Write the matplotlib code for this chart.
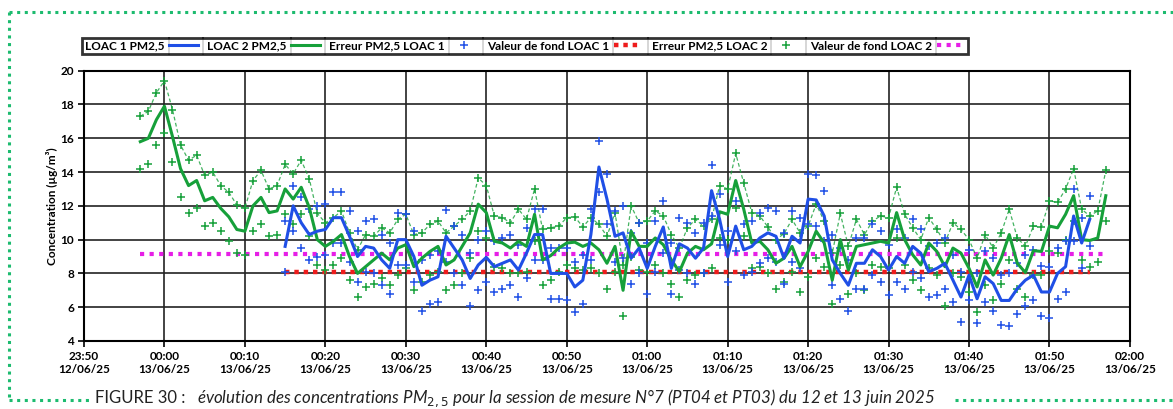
import numpy as np
import pandas as pd
import matplotlib
matplotlib.use("Agg")
import matplotlib.pyplot as plt
import matplotlib.dates as mdates
from matplotlib.lines import Line2D

plt.rcParams['font.family'] = ['Lato', 'DejaVu Sans']

# --- data (PM2.5, µg/m3), one value per minute ---
loac2_start = "2025-06-12 23:57"   # green series
loac1_start = "2025-06-13 00:15"   # blue series

loac2 = [15.8, 16.0, 17.1, 17.9, 16.1, 14.2, 13.2, 13.5, 12.3, 12.5,
         11.85, 11.35, 10.6, 10.5, 12.0, 12.5, 11.6, 11.7, 13.0, 12.4,
         13.1, 11.9, 10.0, 9.6, 9.9, 10.3, 9.0, 8.0, 8.4, 8.8,
         9.2, 8.8, 9.5, 9.7, 8.4, 8.9, 9.3, 9.6, 8.5, 8.8,
         9.6, 10.4, 12.1, 11.6, 9.9, 9.8, 9.5, 9.9, 9.6, 11.5,
         8.8, 9.05, 9.5, 9.8, 9.85, 9.6, 9.8, 9.4, 8.6, 9.6,
         7.0, 10.5, 9.6, 9.6, 10.1, 9.7, 8.8, 8.1, 9.2, 9.6,
         9.4, 9.75, 11.65, 11.5, 13.5, 11.8, 9.8, 9.9, 9.4, 8.6,
         8.9, 9.6, 8.4, 9.3, 10.5, 9.8, 7.6, 10.0, 8.2, 9.6,
         9.7, 9.8, 9.9, 9.8, 11.6, 10.0, 9.1, 8.5, 9.8, 9.3,
         8.4, 9.5, 9.2, 8.3, 7.2, 8.8, 7.9, 8.9, 10.3, 8.6,
         8.05, 9.35, 9.3, 10.8, 10.7, 11.5, 12.6, 10.0, 9.95, 10.1,
         12.6]
loac2_up = [17.3, 17.6, 18.7, 19.4, 17.7, 15.6, 14.7, 15.0, 13.8, 14.0,
            13.2, 12.8, 12.05, 11.85, 13.5, 14.1, 13.0, 13.2, 14.45, 13.9,
            14.7, 13.6, 11.55, 11.0, 11.3, 11.7, 10.4, 9.4, 10.3, 10.2,
            10.7, 10.4, 11.2, 11.5, 10.3, 10.4, 10.9, 11.1, 10.4, 10.8,
            11.2, 11.7, 13.65, 13.2, 11.4, 11.3, 11.0, 11.8, 11.2, 13.0,
            10.6, 10.7, 10.8, 11.3, 11.35, 10.75, 11.3, 10.9, 10.2, 11.6,
            8.5, 12.0, 11.0, 11.1, 11.7, 11.4, 10.3, 9.5, 10.7, 11.2,
            10.8, 11.2, 13.2, 13.0, 15.1, 13.35, 11.6, 11.4, 10.75, 10.0,
            10.35, 11.2, 10.4, 10.8, 12.1, 11.1, 9.2, 11.55, 9.6, 11.2,
            10.3, 11.1, 11.4, 11.3, 13.1, 11.5, 10.7, 10.0, 11.3, 10.6,
            9.8, 11.0, 10.6, 10.0, 8.9, 10.3, 9.5, 10.4, 11.8, 10.1,
            9.6, 10.8, 10.75, 12.3, 12.2, 13.0, 14.2, 11.8, 11.4, 11.7,
            14.1]
loac2_low = [14.2, 14.5, 15.6, 16.3, 14.6, 12.5, 11.6, 11.9, 10.8, 11.0,
             10.5, 9.9, 9.2, 9.1, 10.5, 10.9, 10.2, 10.3, 11.5, 10.9,
             11.5, 10.2, 8.5, 8.2, 8.5, 8.9, 7.6, 6.6, 7.2, 7.4,
             7.7, 7.3, 7.9, 8.3, 7.0, 7.5, 7.9, 8.1, 7.0, 7.3,
             8.0, 8.9, 10.5, 10.1, 8.4, 8.3, 8.0, 8.0, 8.1, 9.9,
             7.3, 7.6, 8.1, 8.5, 8.3, 8.2, 8.3, 8.0, 7.1, 8.1,
             5.5, 9.0, 8.2, 8.1, 8.5, 8.0, 7.4, 6.6, 7.6, 7.9,
             8.0, 8.3, 10.1, 10.0, 11.9, 10.2, 8.3, 8.4, 8.0, 7.1,
             7.5, 8.1, 6.9, 7.8, 8.9, 8.4, 6.2, 8.5, 6.8, 8.0,
             7.0, 8.5, 8.4, 8.3, 10.1, 8.5, 7.6, 7.0, 8.3, 7.9,
             6.1, 8.0, 7.8, 6.9, 5.7, 7.3, 6.4, 7.4, 8.8, 7.1,
             6.6, 7.9, 7.9, 9.3, 9.2, 10.0, 11.1, 8.8, 8.4, 8.65,
             11.1]

loac1 = [9.6, 12.0, 11.0, 10.3, 10.5, 10.6, 11.3, 11.3, 10.2, 9.0,
         9.6, 9.5, 8.8, 8.3, 10.0, 10.0, 9.0, 7.3, 7.6, 7.8,
         10.2, 9.5, 8.8, 7.7, 8.5, 8.95, 8.4, 8.6, 8.8, 8.2,
         9.2, 10.3, 10.3, 8.0, 8.0, 8.0, 7.2, 7.6, 10.3, 14.3,
         12.4, 10.2, 10.4, 8.9, 9.5, 8.3, 9.6, 10.75, 8.3, 9.75,
         9.5, 8.9, 9.5, 12.9, 11.2, 9.0, 10.8, 9.4, 9.6, 10.1,
         10.4, 10.2, 8.9, 10.2, 9.8, 12.4, 12.35, 11.4, 8.8, 8.0,
         7.3, 8.6, 8.6, 9.4, 9.0, 8.2, 9.0, 8.6, 9.6, 9.2,
         8.1, 8.3, 8.6, 7.6, 6.6, 7.9, 6.5, 7.8, 7.4, 6.4,
         6.4, 7.1, 7.6, 7.9, 6.9, 6.9, 8.0, 8.4, 11.4, 9.8,
         11.2]
loac1_up = [11.1, 13.2, 12.5, 11.8, 12.0, 12.1, 12.8, 12.8, 11.7, 10.5,
            11.1, 11.2, 10.3, 9.8, 11.6, 11.5, 10.5, 8.8, 9.1, 9.3,
            11.75, 10.8, 10.3, 9.2, 10.0, 10.5, 9.9, 10.1, 10.3, 9.7,
            10.7, 11.8, 11.8, 9.5, 9.5, 9.5, 8.7, 9.1, 11.8, 15.85,
            13.9, 11.7, 12.0, 10.4, 11.0, 9.8, 11.1, 12.3, 9.8, 11.3,
            11.0, 10.4, 11.0, 14.4, 12.7, 10.5, 12.3, 10.9, 11.1, 11.6,
            11.9, 11.7, 10.4, 11.7, 11.3, 13.9, 13.8, 12.9, 10.3, 9.5,
            8.8, 10.1, 10.1, 10.9, 10.5, 9.7, 10.6, 10.1, 11.2, 10.6,
            9.6, 9.8, 10.1, 9.1, 8.1, 9.4, 8.0, 9.3, 8.9, 7.9,
            8.0, 8.6, 9.1, 9.4, 8.45, 8.4, 9.5, 9.9, 13.0, 11.3,
            12.6]
loac1_low = [8.1, 10.5, 9.5, 8.8, 9.0, 9.1, 9.8, 9.8, 8.7, 7.5,
             8.1, 8.0, 7.3, 6.8, 8.5, 8.5, 7.5, 5.8, 6.2, 6.3,
             8.7, 8.0, 7.3, 6.1, 7.0, 7.5, 6.9, 7.1, 7.3, 6.6,
             7.7, 8.8, 8.8, 6.5, 6.5, 6.4, 5.7, 6.2, 8.8, 12.8,
             10.9, 8.7, 8.9, 7.4, 8.0, 6.8, 8.1, 9.2, 6.8, 8.2,
             8.0, 7.4, 8.0, 11.4, 9.7, 7.5, 9.3, 7.9, 8.1, 8.6,
             8.9, 8.7, 7.4, 8.7, 8.3, 10.9, 10.8, 9.9, 7.3, 6.5,
             5.8, 7.1, 7.1, 7.9, 7.5, 6.7, 7.5, 7.1, 8.1, 7.7,
             6.6, 6.7, 7.1, 6.3, 5.15, 6.4, 5.05, 6.3, 5.8, 4.95,
             4.9, 5.6, 6.1, 6.4, 5.5, 5.35, 6.5, 6.9, 9.9, 8.3,
             9.65]

fond1 = 8.1    # valeur de fond LOAC 1
fond2 = 9.15   # valeur de fond LOAC 2

labels = ["LOAC 1 PM2,5", "LOAC 2 PM2,5", "Erreur PM2,5 LOAC 1",
          "Valeur de fond LOAC 1", "Erreur PM2,5 LOAC 2", "Valeur de fond LOAC 2"]

t2 = pd.date_range(loac2_start, periods=len(loac2), freq="1min")
t1 = pd.date_range(loac1_start, periods=len(loac1), freq="1min")

BLUE = "#1f4fe6"
GREEN = "#16a03a"
RED = "#ee1c1c"
MAGENTA = "#e61ee6"

fig = plt.figure(figsize=(11.73, 4.09), dpi=100)
ax = fig.add_axes([0.0716, 0.1663, 0.8917, 0.6608])

# background values
ax.plot([t2[0], t2[-1]], [fond2, fond2], color=MAGENTA, lw=3, ls=(0, (1, 1.3)),
        label=labels[5], zorder=2)
ax.plot([t1[0], t1[-1]], [fond1, fond1], color=RED, lw=3.2, ls=(0, (1, 1.1)),
        label=labels[3], zorder=2)

# error markers
ax.plot(t2, loac2_up, color=GREEN, lw=0.9, ls=(0, (3, 2)), alpha=0.8, zorder=3)
ax.plot(t2, loac2_up, ls="none", marker="+", ms=6, mew=1.1, color=GREEN,
        label=labels[4], zorder=3)
ax.plot(t2, loac2_low, ls="none", marker="+", ms=6, mew=1.1, color=GREEN, zorder=3)
ax.plot(t1, loac1_up, ls="none", marker="+", ms=6, mew=1.1, color=BLUE,
        label=labels[2], zorder=3)
ax.plot(t1, loac1_low, ls="none", marker="+", ms=6, mew=1.1, color=BLUE, zorder=3)

# main series
ax.plot(t2, loac2, color=GREEN, lw=2.2, label=labels[1], zorder=4)
ax.plot(t1, loac1, color=BLUE, lw=2.2, label=labels[0], zorder=5)

ax.set_ylim(4, 20)
ax.set_yticks(np.arange(4, 21, 2))
ax.set_xlim(pd.Timestamp("2025-06-12 23:50"), pd.Timestamp("2025-06-13 02:00"))
ax.xaxis.set_major_locator(mdates.MinuteLocator(byminute=range(0, 60, 10)))
ax.xaxis.set_major_formatter(mdates.DateFormatter("%H:%M\n%d/%m/%y"))
ax.grid(True, color="#222222", lw=1.2)
ax.set_axisbelow(True)
for s in ax.spines.values():
    s.set_linewidth(1.5)
ax.tick_params(length=4, width=1.2, labelsize=8.5, pad=3)
for lab in ax.get_xticklabels() + ax.get_yticklabels():
    lab.set_fontweight("bold")
ax.set_ylabel("Concentration (µg/m³)", fontsize=8.5, fontweight="bold", labelpad=2)

handles, labs = ax.get_legend_handles_labels()
order = [labs.index(l) for l in labels]
leg = fig.legend([handles[i] for i in order], [labs[i] for i in order],
                 loc="center", bbox_to_anchor=(0.4476, 0.8875), ncol=6,
                 markerfirst=False, fancybox=False, edgecolor="black",
                 handlelength=2.4, columnspacing=0.8, handletextpad=0.4,
                 borderpad=0.25, prop={"weight": "bold", "size": 8.5})
leg.get_frame().set_linewidth(2)

# cell separators inside the legend box
fig.canvas.draw()
renderer = fig.canvas.get_renderer()
box = leg.get_frame().get_window_extent(renderer)
texts = leg.get_texts()
xs = []
for i, txt in enumerate(texts):
    bb = txt.get_window_extent(renderer)
    if i > 0:
        xs.append(bb.x0 - 4)
    xs.append(bb.x1 + 4)
for x in xs:
    fig.add_artist(Line2D([x / fig.bbox.width] * 2,
                          [box.y0 / fig.bbox.height, box.y1 / fig.bbox.height],
                          color="black", lw=1.1))

# dotted page frame
dot = dict(color="#1dbb6f", lw=2.2, ls=(0, (1, 1.5)))
fig.add_artist(Line2D([9 / 1173, 1.0], [1 - 12 / 409] * 2, **dot))
fig.add_artist(Line2D([9 / 1173] * 2, [1 - 12 / 409, 1 - 400 / 409], **dot))
fig.add_artist(Line2D([9 / 1173, 92 / 1173], [1 - 400 / 409] * 2, **dot))
fig.add_artist(Line2D([955 / 1173, 1.0], [1 - 400 / 409] * 2, **dot))

fig.text(95 / 1173, 1 - 398 / 409, "FIGURE 30 :", fontsize=12, va="center",
         color="#222222")
fig.text(197 / 1173, 1 - 398 / 409,
         "évolution des concentrations PM$_{2,5}$ pour la session de mesure "
         "N°7 (PT04 et PT03) du 12 et 13 juin 2025",
         fontsize=12.2, style="italic", va="center", color="#222222")

fig.savefig("out.png", dpi=100)
